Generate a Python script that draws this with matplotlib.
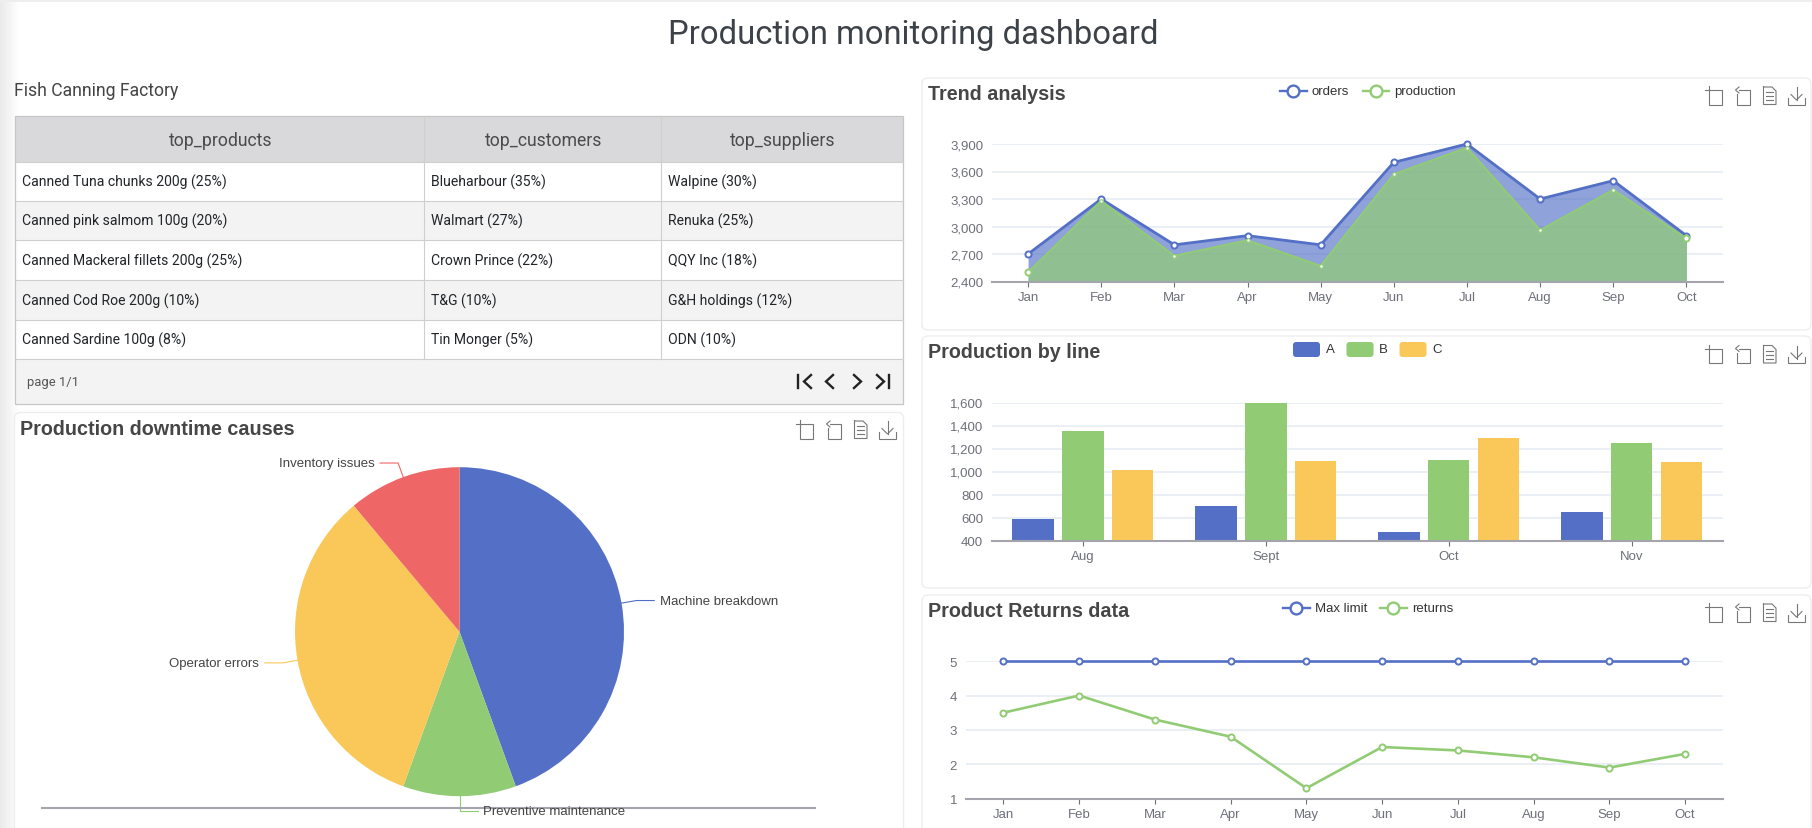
import numpy as np
import matplotlib
matplotlib.use("Agg")
import matplotlib.pyplot as plt
from matplotlib.patches import FancyBboxPatch, Rectangle

W, H = 1812, 829

# table
table_cols = ["top_products", "top_customers", "top_suppliers"]
top_products = ["Canned Tuna chunks 200g (25%)", "Canned pink salmom 100g (20%)",
                "Canned Mackeral fillets 200g (25%)", "Canned Cod Roe 200g (10%)",
                "Canned Sardine 100g (8%)"]
top_customers = ["Blueharbour (35%)", "Walmart (27%)", "Crown Prince (22%)",
                 "T&G (10%)", "Tin Monger (5%)"]
top_suppliers = ["Walpine (30%)", "Renuka (25%)", "QQY Inc (18%)",
                 "G&H holdings (12%)", "ODN (10%)"]

# trend analysis
months = ["Jan", "Feb", "Mar", "Apr", "May", "Jun", "Jul", "Aug", "Sep", "Oct"]
orders = [2700, 3300, 2800, 2900, 2800, 3700, 3900, 3300, 3500, 2900]
production = [2500, 3280, 2680, 2850, 2570, 3570, 3860, 2960, 3400, 2870]
trend_ticks = [2400, 2700, 3000, 3300, 3600, 3900]

# production by line
line_months = ["Aug", "Sept", "Oct", "Nov"]
line_a = [590, 700, 475, 650]
line_b = [1350, 1600, 1100, 1250]
line_c = [1015, 1095, 1295, 1085]
line_ticks = [400, 600, 800, 1000, 1200, 1400, 1600]

# returns
max_limit = [5, 5, 5, 5, 5, 5, 5, 5, 5, 5]
returns = [3.5, 4, 3.3, 2.8, 1.3, 2.5, 2.4, 2.2, 1.9, 2.3]
returns_ticks = [1, 2, 3, 4, 5]

# downtime pie
causes = ["Machine breakdown", "Preventive maintenance", "Operator errors", "Inventory issues"]
cause_values = [40, 10, 30, 10]

BLUE, GREEN, YELLOW, RED = "#5470c6", "#91cc75", "#fac858", "#ee6666"
AXIS_TXT = "#6e7079"
GRID = "#e6ebf4"
AXIS_LINE = "#a4a5ac"
CHART_FONT = "Liberation Sans"
HTML_FONT = "Roboto"
CHART_FS = 9.5

fig = plt.figure(figsize=(W / 100, H / 100), dpi=100, facecolor="white")
bg = fig.add_axes([0, 0, 1, 1], zorder=0)
# everything measured from the crops sits about a pixel high
bg.set_xlim(0, W)
bg.set_ylim(H - 1, -1)
bg.axis("off")


def px_axes(x0, y0, x1, y1):
    ax = fig.add_axes([x0 / W, 1 - (y1 + 1) / H, (x1 - x0) / W, (y1 - y0) / H], zorder=1)
    ax.patch.set_alpha(0)
    return ax


def card(x0, y0, x1, y1):
    bg.add_patch(FancyBboxPatch((x0 + 6, y0 + 6), x1 - x0 - 12, y1 - y0 - 12,
                                boxstyle="round,pad=6", fc="white", ec="#eeeeee", lw=1))


def toolbox(dx, dy):
    segs = [
        # crop
        [(1705, 90), (1722, 90), (1722, 104.5), (1709, 104.5), (1709, 86)],
        # restore
        [(1739, 90), (1750, 90), (1750, 104.5), (1736.5, 104.5), (1736.5, 94)],
        [(1739, 87), (1735.5, 90), (1739, 93)],
        # data view
        [(1763.5, 87), (1772, 87), (1776, 91), (1776, 104.5), (1763.5, 104.5), (1763.5, 87)],
        [(1766, 92), (1773, 92)], [(1766, 96), (1773, 96)], [(1766, 100), (1773, 100)],
        # save
        [(1796.5, 87), (1796.5, 100)], [(1791, 94.5), (1796.5, 100), (1802, 94.5)],
        [(1788, 98), (1788, 104.5), (1805, 104.5), (1805, 98)],
    ]
    for s in segs:
        s = np.array(s)
        bg.plot(s[:, 0] + dx, s[:, 1] + dy, color="#777777", lw=0.8, solid_joinstyle="miter")


def chart_title(x, y, s):
    bg.text(x, y, s, family=CHART_FONT, weight="bold", fontsize=14.2, color="#464646", va="center", ha="left")


def legend_line(x, y, color, label):
    bg.plot([x, x + 26.5], [y, y], color=color, lw=1.7)
    bg.plot([x + 13.25], [y], "o", ms=8.5, mfc="white", mec=color, mew=1.7)
    bg.text(x + 32, y, label, family=CHART_FONT, fontsize=CHART_FS, color="#333333", va="center")


def legend_box(x, y, color, label):
    bg.add_patch(FancyBboxPatch((x + 3, y - 4.5), 21, 9, boxstyle="round,pad=3", fc=color, ec="none"))
    bg.text(x + 32.5, y, label, family=CHART_FONT, fontsize=CHART_FS, color="#333333", va="center")


def style_axes(ax, ticks):
    for s in ["top", "left", "right"]:
        ax.spines[s].set_visible(False)
    ax.spines["bottom"].set_color(AXIS_LINE)
    ax.spines["bottom"].set_linewidth(1.5)
    ax.spines["bottom"].set_zorder(6)
    ax.set_yticks(ticks)
    ax.set_yticklabels([f"{t:,}" for t in ticks], family=CHART_FONT, fontsize=CHART_FS, color=AXIS_TXT)
    ax.tick_params(axis="y", length=0, pad=6)
    ax.tick_params(axis="x", length=3.6, width=0.8, color=AXIS_TXT, pad=3.2, labelcolor=AXIS_TXT, labelsize=CHART_FS)
    for lab in ax.get_xticklabels():
        lab.set_family(CHART_FONT)
    ax.grid(axis="y", color=GRID, lw=1.2, zorder=0)
    ax.set_axisbelow(True)


# page background / shadows
shade = np.linspace(0.915, 1.0, 20).reshape(1, -1)
bg.imshow(shade, extent=(0, 20, H, -1), cmap="gray", vmin=0, vmax=1, aspect="auto", zorder=0)
bg.add_patch(Rectangle((0, -1), W, 3, fc="#eeeeee", ec="none", zorder=0.5))
bg.set_xlim(0, W)
bg.set_ylim(H - 1, -1)

bg.text(913, 34, "Production monitoring dashboard", family=HTML_FONT,
        fontsize=23.6, color="#3d4248", ha="center", va="center")
bg.text(14, 90.5, "Fish Canning Factory", family=HTML_FONT, fontsize=12.7, color="#444444", va="center")

# table
tx0, tx1 = 14.5, 902.5
col_x = [14.5, 424, 661, 902.5]
row_y = [116, 162, 201, 240, 280, 320, 359, 404]
bg.add_patch(Rectangle((tx0, row_y[0]), tx1 - tx0, row_y[1] - row_y[0], fc="#d9d9dc", ec="none"))
for i in [1, 3]:
    bg.add_patch(Rectangle((tx0, row_y[i + 1]), tx1 - tx0, row_y[i + 2] - row_y[i + 1], fc="#f3f3f3", ec="none"))
bg.add_patch(Rectangle((tx0, row_y[6]), tx1 - tx0, row_y[7] - row_y[6], fc="#f3f3f3", ec="none"))
for y in row_y[1:7]:
    bg.plot([tx0, tx1], [y, y], color="#cfcfcf", lw=0.8)
for x in col_x[1:3]:
    bg.plot([x, x], [row_y[0], row_y[6]], color="#cfcfcf", lw=0.8)
bg.add_patch(Rectangle((tx0, row_y[0]), tx1 - tx0, row_y[7] - row_y[0], fc="none", ec="#c6c6c6", lw=0.9))
for j, name in enumerate(table_cols):
    bg.text((col_x[j] + col_x[j + 1]) / 2 + 1, 139.5, name, family=HTML_FONT, fontsize=12.7,
            color="#4a4a4a", ha="center", va="center")
for j, col in enumerate([top_products, top_customers, top_suppliers]):
    for i, val in enumerate(col):
        bg.text(col_x[j] + 7, (row_y[i + 1] + row_y[i + 2]) / 2, val, family=HTML_FONT, fontsize=10.1,
                color="#212529", va="center")
bg.text(27, 381.5, "page 1/1", family=HTML_FONT, fontsize=9.4, color="#555555", va="center")
for pts in [[(797.5, 375), (797.5, 388)], [(811, 375), (804, 381.5), (811, 388)],
            [(833, 375), (826, 381.5), (833, 388)], [(854, 375), (861, 381.5), (854, 388)],
            [(877, 375), (884, 381.5), (877, 388)], [(889, 375), (889, 388)]]:
    pts = np.array(pts)
    bg.plot(pts[:, 0], pts[:, 1], color="#222222", lw=1.7, solid_joinstyle="miter")

# cards
card(14.5, 412.5, 903.5, 860)
card(922, 78, 1811, 330)
card(922, 336, 1811, 588)
card(922, 595, 1811, 860)

# pie
chart_title(20, 428.5, "Production downtime causes")
toolbox(-909, 334)
bg.plot([41.5, 815], [807.7, 807.7], color=AXIS_LINE, lw=1.5, zorder=3)
PIE_X, PIE_Y, PIE_R = 459.5, 631.7, 164.5
ax_pie = px_axes(PIE_X - PIE_R, PIE_Y - PIE_R, PIE_X + PIE_R, PIE_Y + PIE_R)
pie_colors = [BLUE, GREEN, YELLOW, RED]
ax_pie.pie(cause_values, colors=pie_colors, startangle=90, counterclock=False, radius=1,
           wedgeprops=dict(edgecolor="none"))
ax_pie.set_xlim(-1, 1)
ax_pie.set_ylim(-1, 1)
ang = 0.0
for name, val, col in zip(causes, cause_values, pie_colors):
    mid = np.deg2rad(ang + val / sum(cause_values) * 180)
    ang += val / sum(cause_values) * 360
    sx, sy = np.sin(mid), -np.cos(mid)
    p1 = (PIE_X + PIE_R * sx, PIE_Y + PIE_R * sy)
    p2 = (PIE_X + (PIE_R + 15) * sx, PIE_Y + (PIE_R + 15) * sy)
    side = 1 if sx >= -1e-6 else -1
    p3 = (p2[0] + side * 18, p2[1])
    bg.plot([p1[0], p2[0], p3[0]], [p1[1], p2[1], p3[1]], color=col, lw=0.8, zorder=2)
    bg.text(p3[0] + side * 5.5, p3[1], name, family=CHART_FONT, fontsize=CHART_FS, color="#444444",
            ha="left" if side > 0 else "right", va="center", zorder=4)

# trend
chart_title(928, 93.5, "Trend analysis")
toolbox(0, 0)
legend_line(1280, 91, BLUE, "orders")
legend_line(1362.5, 91, GREEN, "production")
ax = px_axes(991.5, 144, 1723, 281.5)
xs = np.arange(len(months))
ax.fill_between(xs, orders, trend_ticks[0], color=BLUE, alpha=0.65, lw=0, zorder=2)
ax.fill_between(xs, production, trend_ticks[0], color=GREEN, alpha=0.7, lw=0, zorder=2.5)
ax.plot(xs, orders, color=BLUE, lw=2, zorder=3, clip_on=False)
ax.plot(xs, orders, "o", ms=4.4, mfc="white", mec=BLUE, mew=1.4, zorder=3.2, clip_on=False)
ax.plot(xs, production, color=GREEN, lw=1.5, zorder=4, clip_on=False)
ax.plot(xs, production, "o", ms=2.6, mfc="white", mec=GREEN, mew=0.8, markevery=(1, 1), zorder=4.2, clip_on=False)
ax.plot(xs, production, "o", ms=4.4, mfc="white", mec=GREEN, mew=1.4, markevery=[0, 9], zorder=4.3, clip_on=False)
ax.set_xlim(-0.5, 9.5)
ax.set_ylim(trend_ticks[0], trend_ticks[-1])
ax.set_xticks(xs)
ax.set_xticklabels(months)
style_axes(ax, trend_ticks)

# production by line
chart_title(928, 352, "Production by line")
toolbox(0, 258.5)
legend_box(1293, 349.5, BLUE, "A")
legend_box(1346.5, 349.5, GREEN, "B")
legend_box(1399.5, 349.5, YELLOW, "C")
ax = px_axes(991.5, 402.5, 1723, 540.5)
xs = np.arange(len(line_months))
for vals, off, col in zip([line_a, line_b, line_c], [-0.272, 0, 0.272], [BLUE, GREEN, YELLOW]):
    ax.bar(xs + off, vals, width=0.227, color=col, zorder=3)
ax.set_xlim(-0.5, 3.5)
ax.set_ylim(line_ticks[0], line_ticks[-1])
ax.set_xticks(xs)
ax.set_xticklabels(line_months)
style_axes(ax, line_ticks)

# returns
chart_title(928, 611, "Product Returns data")
toolbox(0, 517)
legend_line(1283, 608, BLUE, "Max limit")
legend_line(1380, 608, GREEN, "returns")
ax = px_axes(965.5, 661.2, 1723, 798.5)
xs = np.arange(len(months))
for vals, col in [(max_limit, BLUE), (returns, GREEN)]:
    ax.plot(xs, vals, color=col, lw=1.9, zorder=3, clip_on=False)
    ax.plot(xs, vals, "o", ms=4.4, mfc="white", mec=col, mew=1.4, zorder=4, clip_on=False)
ax.set_xlim(-0.5, 9.5)
ax.set_ylim(returns_ticks[0], returns_ticks[-1])
ax.set_xticks(xs)
ax.set_xticklabels(months)
style_axes(ax, returns_ticks)

fig.savefig("out.png", dpi=100)
